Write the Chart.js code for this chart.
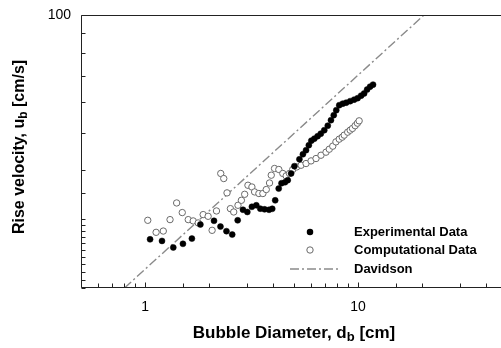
<!DOCTYPE html>
<html><head><meta charset="utf-8">
<script src="https://cdn.jsdelivr.net/npm/chart.js@4.4.0/dist/chart.umd.min.js"></script>
<style>html,body{margin:0;padding:0;background:#fff;overflow:hidden;width:501px;height:348px}
#wrap{width:512px;height:348px;overflow:visible}
#c{display:block;width:512px;height:348px}</style>
</head><body><div id="wrap"><canvas id="c" width="512" height="348"></canvas></div>
<script>
// Experimental data (filled circles): bubble diameter [cm], rise velocity [cm/s]
const expDiameter = [1.055,1.20,1.356,1.505,1.658,1.817,2.106,2.258,2.409,2.564,2.720,2.880,3.019,3.172,3.327,3.473,3.637,3.818,3.952,4.080,4.238,4.368,4.535,4.674,4.848,5.022,5.301,5.505,5.695,5.870,6.030,6.228,6.453,6.680,6.936,7.203,7.456,7.685,7.895,8.154,8.468,8.791,9.177,9.579,9.947,10.33,10.67,11.02,11.38,11.75];
const expVelocity = [26.65,26.4,25.4,25.95,26.76,29.08,29.72,28.73,27.96,27.41,29.81,31.72,31.31,32.28,32.57,31.93,31.80,31.72,31.90,33.54,35.94,37.09,37.31,37.76,39.29,41.02,42.72,44.0,45.07,46.42,47.67,48.24,48.95,49.68,50.71,52.07,53.80,55.41,57.06,58.77,59.30,59.64,60.18,60.71,61.25,62.16,62.97,64.42,65.55,66.33];
// Computational data (open circles)
const compDiameter = [1.029,1.126,1.217,1.309,1.406,1.494,1.594,1.682,1.775,1.873,1.976,2.063,2.163,2.265,2.340,2.424,2.514,2.606,2.729,2.831,2.934,3.039,3.172,3.266,3.421,3.571,3.705,3.838,3.910,4.051,4.243,4.430,4.594,4.761,4.932,5.149,5.398,5.695,6.012,6.344,6.694,7.067,7.322,7.601,7.867,8.154,8.421,8.604,8.932,9.177,9.406,9.683,9.924,10.11];
const compVelocity = [29.81,27.77,27.98,29.93,33.02,31.2,29.93,29.7,29.35,30.83,30.52,28.1,31.50,39.29,38.13,35.04,31.93,31.31,32.57,33.54,34.75,36.65,36.28,35.24,34.91,34.91,35.74,37.15,38.89,40.46,40.22,39.29,38.73,39.29,40.22,40.83,41.24,41.66,42.31,42.91,43.75,44.54,45.33,46.15,47.33,48.10,48.67,49.25,50.12,50.71,51.23,52.07,52.85,53.58];
// Davidson correlation (straight line on log-log axes)
const davidsonDiameter = [0.8, 20.4];
const davidsonVelocity = [20, 100];
// Axis ranges and labelled ticks
const xRange = [0.5, 50];
const yRange = [20, 100];
const xTickLabels = [1, 10];
const yTickLabels = [100];
const seriesNames = ['Experimental Data', 'Computational Data', 'Davidson'];

const FONT = 'Arial, "Liberation Sans", sans-serif';
const toPts = (xs, ys) => xs.map((v, i) => ({x: v, y: ys[i]}));
const near = (v, arr) => arr.some(a => Math.abs(v - a) < 1e-6 * a);
const isDecade = v => Math.abs(Math.log10(v) - Math.round(Math.log10(v))) < 1e-6;

function drawParts(ctx, parts, size, subSize, cx, cy) {
  let w = 0;
  parts.forEach(p => { ctx.font = 'bold ' + (p.sub ? subSize : size) + 'px ' + FONT; p.w = ctx.measureText(p.t).width; w += p.w; });
  let x = cx - w / 2;
  ctx.textBaseline = 'middle'; ctx.textAlign = 'left';
  parts.forEach(p => { ctx.font = 'bold ' + (p.sub ? subSize : size) + 'px ' + FONT; ctx.fillText(p.t, x, cy + (p.sub ? 4 : 0)); x += p.w; });
}

const framePlugin = {
  id: 'frame',
  afterDraw(chart) {
    const {ctx, chartArea: a, scales: {x, y}} = chart;
    ctx.save();
    ctx.strokeStyle = '#222'; ctx.lineWidth = 1;
    const L = Math.round(a.left) + 0.5, T = Math.round(a.top) + 0.5, B = Math.round(a.bottom) - 0.5, R = Math.round(a.right) + 0.5;
    ctx.beginPath(); ctx.rect(L, T, R - L, B - T); ctx.stroke();
    ctx.beginPath();
    x.ticks.forEach(t => { const px = Math.round(x.getPixelForValue(t.value)) + 0.5; const len = isDecade(t.value) ? 5 : 4; ctx.moveTo(px, B); ctx.lineTo(px, B - len); });
    y.ticks.forEach(t => { const py = Math.round(y.getPixelForValue(t.value)) + 0.5; const len = isDecade(t.value) ? 5 : 4; ctx.moveTo(L, py); ctx.lineTo(L + len, py); });
    ctx.stroke();
    // y tick labels
    ctx.fillStyle = '#000'; ctx.font = '14px ' + FONT; ctx.textAlign = 'right'; ctx.textBaseline = 'middle';
    yTickLabels.forEach(v => ctx.fillText(String(v), a.left - 10, y.getPixelForValue(v)));
    // axis titles
    drawParts(ctx, [{t: 'Bubble Diameter, d'}, {t: 'b', sub: true}, {t: ' [cm]'}], 17, 13, (a.left + a.right) / 2, 333);
    ctx.save();
    ctx.translate(20, 147);
    ctx.rotate(-Math.PI / 2);
    drawParts(ctx, [{t: 'Rise velocity, u'}, {t: 'b', sub: true}, {t: ' [cm/s]'}], 16, 12, 0, 0);
    ctx.restore();
    // legend
    const ds = chart.data.datasets;
    const rows = [232, 250, 269];
    ctx.beginPath(); ctx.arc(310, rows[0], ds[0].pointRadius + 0.25, 0, 2 * Math.PI);
    ctx.fillStyle = ds[0].pointBackgroundColor; ctx.fill();
    ctx.beginPath(); ctx.arc(310, rows[1], ds[1].pointRadius, 0, 2 * Math.PI);
    ctx.fillStyle = ds[1].pointBackgroundColor; ctx.fill();
    ctx.strokeStyle = ds[1].pointBorderColor; ctx.lineWidth = 1; ctx.stroke();
    ctx.beginPath(); ctx.setLineDash(ds[2].borderDash); ctx.strokeStyle = ds[2].borderColor; ctx.lineWidth = ds[2].borderWidth;
    ctx.moveTo(290, rows[2]); ctx.lineTo(338, rows[2]); ctx.stroke(); ctx.setLineDash([]);
    ctx.fillStyle = '#000'; ctx.font = 'bold 13px ' + FONT; ctx.textAlign = 'left'; ctx.textBaseline = 'middle';
    seriesNames.forEach((n, i) => ctx.fillText(n, 354, rows[i]));
    ctx.restore();
  }
};

new Chart(document.getElementById('c'), {
  data: {
    datasets: [
      {type: 'scatter', label: seriesNames[0], data: toPts(expDiameter, expVelocity), pointRadius: 3, pointBackgroundColor: '#000', pointBorderColor: '#000', pointBorderWidth: 0.5},
      {type: 'scatter', label: seriesNames[1], data: toPts(compDiameter, compVelocity), pointRadius: 3.2, pointBackgroundColor: '#fff', pointBorderColor: '#6a6a6a', pointBorderWidth: 1},
      {type: 'line', label: seriesNames[2], data: toPts(davidsonDiameter, davidsonVelocity), pointRadius: 0, borderColor: '#8a8a8a', borderWidth: 1.4, borderDash: [9, 3, 2, 3], fill: false}
    ]
  },
  options: {
    responsive: false, animation: false, devicePixelRatio: 1,
    layout: {padding: {top: 15, right: 3.4, left: 0, bottom: 0}},
    plugins: {legend: {display: false}, tooltip: {enabled: false}},
    scales: {
      x: {type: 'logarithmic', position: 'bottom', min: xRange[0], max: xRange[1],
        grid: {display: false, drawTicks: false}, border: {display: false},
        afterFit(s) { s.height = 60; s.paddingLeft = 0; s.paddingRight = 0; },
        ticks: {autoSkip: false, maxRotation: 0, padding: 11, color: '#000', font: {family: FONT, size: 14},
          callback: v => near(v, xTickLabels) ? String(Math.round(v)) : ''}},
      y: {type: 'logarithmic', position: 'left', min: yRange[0], max: yRange[1],
        grid: {display: false, drawTicks: false}, border: {display: false},
        afterFit(s) { s.width = 81; },
        ticks: {display: false}}
    }
  },
  plugins: [framePlugin]
});
</script></body></html>
